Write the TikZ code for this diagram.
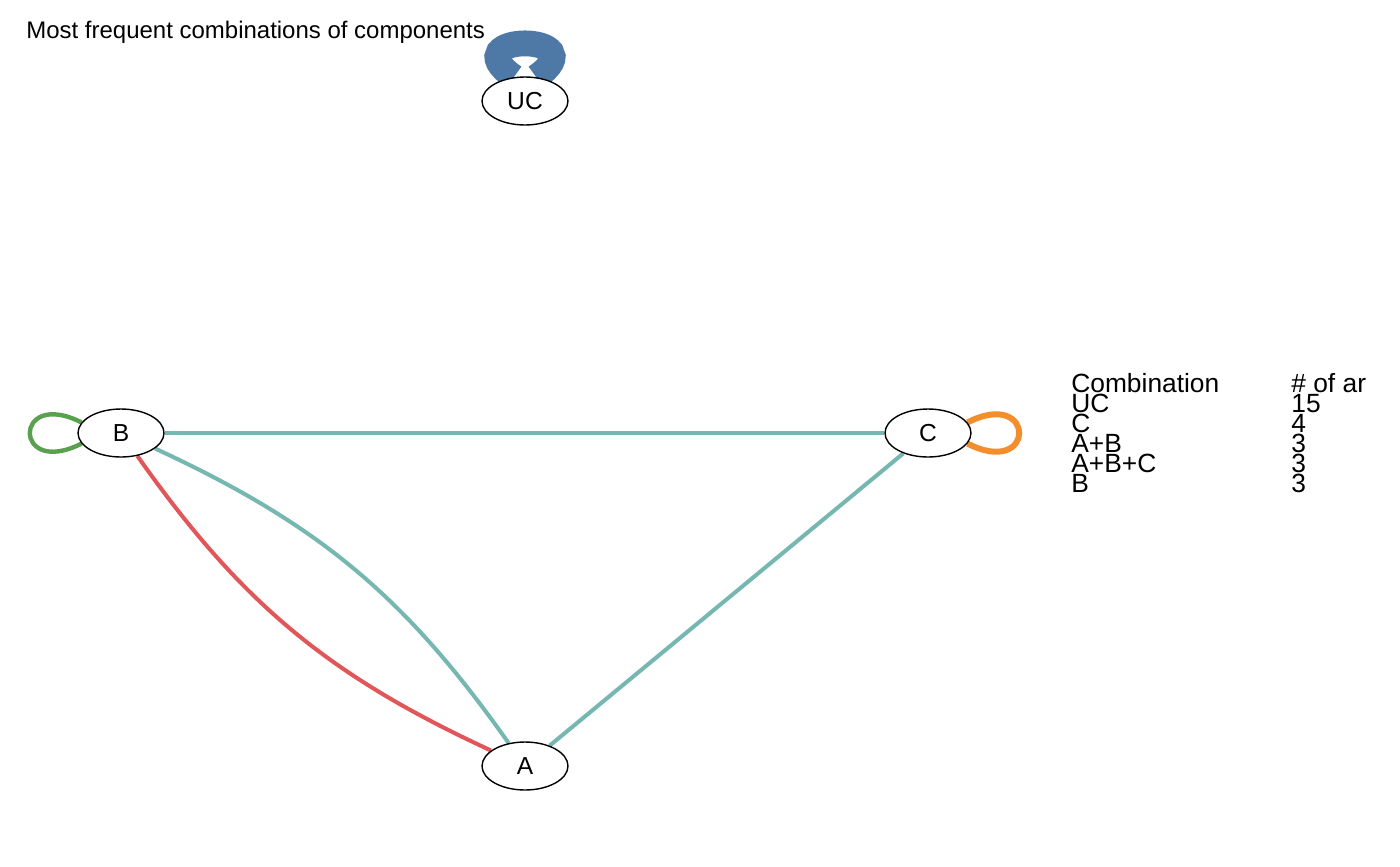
\documentclass[tikz,border=0pt]{standalone}
\usepackage{fontspec}
\setmainfont{Liberation Sans}
\usetikzlibrary{shapes.geometric,backgrounds}
\definecolor{edgeteal}{HTML}{76B7B2}
\definecolor{edgered}{HTML}{E15759}
\definecolor{loopgreen}{HTML}{59A14F}
\definecolor{looporange}{HTML}{F28E2B}
\definecolor{loopblue}{HTML}{4E79A7}
\begin{document}
\begin{tikzpicture}[x=0.02cm, y=-0.02cm, line join=round,
  vertex/.style={draw, ellipse, fill=white, line width=0.8pt, minimum width=1.72cm, minimum height=0.96cm, inner sep=0pt, font=\fontsize{14}{16}\selectfont},
  legtext/.style={anchor=base west, inner sep=0pt, font=\fontsize{15}{15}\selectfont}]
\useasboundingbox (0,0) rectangle (1400,866);

% Title
\node[anchor=base west, inner sep=0pt, font=\fontsize{13.65}{16}\selectfont] (title) at (26,38) {Most frequent combinations of components};

% Vertices
\node[vertex] (UC) at (525,101) {UC};
\node[vertex] (B) at (121,433) {B};
\node[vertex] (C) at (928,433) {C};
\node[vertex] (A) at (525,766) {A};

% Edges and loops, behind the vertices
\begin{scope}[on background layer]
\draw[edgeteal, line width=2.3pt] (B) -- (C);
\draw[edgeteal, line width=2.3pt] (C) -- (A);
\draw[edgeteal, line width=2.3pt] (B) to[bend left=15] (A);
\draw[edgered, line width=2.3pt] (B) to[bend right=15] (A);
\draw[loopgreen, line width=2.5pt] (B.165) .. controls +(-69,-35) and +(-69,35) .. (B.195);
\draw[looporange, line width=3.4pt] (C.15) .. controls +(69,-35) and +(69,35) .. (C.-15);
\draw[loopblue, line width=14.7pt] (UC.115) .. controls +(-65,-45) and +(65,-45) .. (UC.65);
\end{scope}

% Legend
\foreach \comb/\num [count=\i from 0] in {Combination/\# of ar, UC/15, C/4, A+B/3, A+B+C/3, B/3} {
  \node[legtext] (comb\i) at (1071,392+20*\i) {\comb};
  \node[legtext] (num\i) at (1291,392+20*\i) {\num};
}
\end{tikzpicture}
\end{document}
